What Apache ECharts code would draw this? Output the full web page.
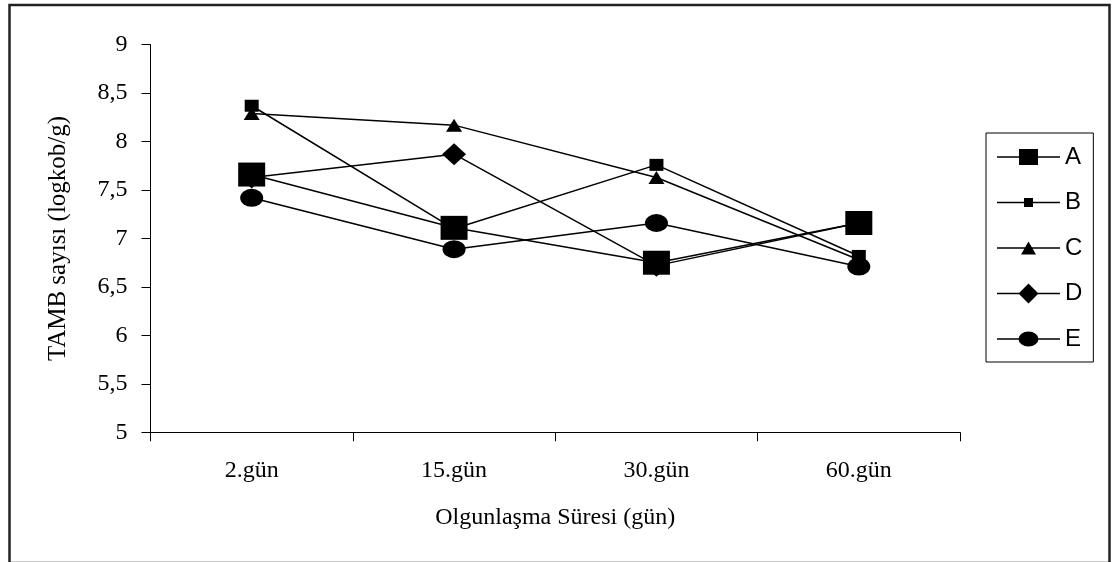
<!DOCTYPE html>
<html>
<head>
<meta charset="utf-8">
<script src="https://cdn.jsdelivr.net/npm/echarts@6/dist/echarts.min.js"></script>
<style>
  html, body { margin: 0; padding: 0; background: #fff; }
  #chart { width: 1113px; height: 562px; }
</style>
</head>
<body>
<div id="chart"></div>
<script>
// Ripening days
const categories = ['2.gün', '15.gün', '30.gün', '60.gün'];

// TAMB counts (log cfu/g) per sample
const seriesA = [7.66, 7.11, 6.75, 7.16];
const seriesB = [8.37, 7.10, 7.76, 6.82];
const seriesC = [8.29, 8.17, 7.63, 6.78];
const seriesD = [7.63, 7.87, 6.72, 7.16];
const seriesE = [7.42, 6.89, 7.16, 6.71];

const seriesNames = ['A', 'B', 'C', 'D', 'E'];
const seriesValues = [seriesA, seriesB, seriesC, seriesD, seriesE];

const yMin = 5, yMax = 9, yStep = 0.5;

const markerShapes = ['rect', 'rect', 'triangle', 'diamond', 'circle'];
const markerSizes = [[27, 24], [14, 12], [16, 13], [24, 22], [23, 18]];

// Legend keys: a horizontal rule with the marker in its middle, drawn in a
// 63x20 box (two tiny corner squares pin the box so the path is not rescaled).
const keyFrame = 'M0,0h0.01v0.01h-0.01Z M62.99,19.99h0.01v0.01h-0.01Z ';
const keyRule = 'M0,9.25H63V10.75H0Z ';
const keyMarks = [
  'M22,2H41V18H22Z',
  'M27,5.5H36V14.5H27Z',
  'M31.5,3.5L39,16.5L24,16.5Z',
  'M31.5,0L41.5,10L31.5,20L21.5,10Z',
  'M21.5,10A10,7.5 0 0,1 41.5,10A10,7.5 0 0,1 21.5,10Z'
];

const serif = '"Liberation Serif", "Times New Roman", serif';
const sans = '"Liberation Sans", Arial, sans-serif';

const chart = echarts.init(document.getElementById('chart'), null, { renderer: 'canvas' });

chart.setOption({
  backgroundColor: '#ffffff',
  animation: false,
  grid: { left: 150.5, right: 153, top: 44.7, bottom: 129.7 },
  legend: {
    orient: 'vertical',
    left: 986,
    top: 133,
    padding: [12, 11, 11, 11],
    itemWidth: 63,
    itemHeight: 20,
    itemGap: 21.5,
    borderColor: '#000',
    borderWidth: 1,
    itemStyle: { borderWidth: 0 },
    data: seriesNames.map((name, i) => ({
      name: name,
      icon: 'path://' + keyFrame + keyRule + keyMarks[i]
    })),
    textStyle: { fontFamily: sans, fontSize: 24, color: '#000' }
  },
  xAxis: {
    type: 'category',
    data: categories,
    boundaryGap: true,
    name: 'Olgunlaşma Süresi (gün)',
    nameLocation: 'middle',
    nameGap: 73,
    nameTextStyle: { fontFamily: serif, fontSize: 24, color: '#000' },
    axisLine: { lineStyle: { color: '#000', width: 1 } },
    axisTick: { show: true, inside: false, length: 9, lineStyle: { color: '#000' } },
    axisLabel: { fontFamily: serif, fontSize: 24, color: '#000', margin: 26 },
    splitLine: { show: false }
  },
  yAxis: {
    type: 'value',
    min: yMin,
    max: yMax,
    interval: yStep,
    name: 'TAMB sayısı (logkob/g)',
    nameLocation: 'middle',
    nameRotate: 90,
    nameGap: 80,
    nameTextStyle: { fontFamily: serif, fontSize: 25, color: '#000' },
    axisLine: { show: true, lineStyle: { color: '#000', width: 1 } },
    axisTick: { show: true, inside: false, length: 9, lineStyle: { color: '#000' } },
    axisLabel: {
      fontFamily: serif, fontSize: 24, color: '#000', margin: 23,
      formatter: v => String(v).replace('.', ',')
    },
    splitLine: { show: false }
  },
  graphic: [{
    type: 'rect',
    left: 7, top: 2.5,
    shape: { width: 1100, height: 558 },
    style: { fill: 'none', stroke: '#222', lineWidth: 2.5 },
    silent: true
  }],
  series: seriesNames.map((name, i) => ({
    name: name,
    type: 'line',
    data: seriesValues[i],
    symbol: markerShapes[i],
    symbolSize: markerSizes[i],
    showAllSymbol: true,
    lineStyle: { color: '#000', width: 1.5 },
    itemStyle: { color: '#000', borderColor: '#000', borderWidth: 0 },
    emphasis: { disabled: true }
  }))
});
</script>
</body>
</html>
